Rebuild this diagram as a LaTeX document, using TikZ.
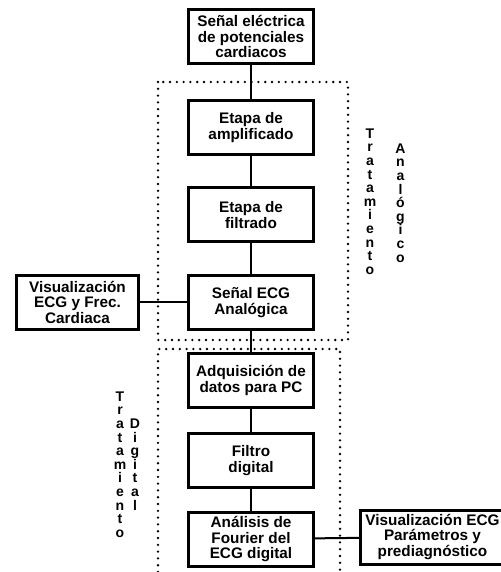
\documentclass[tikz,border=0pt]{standalone}
\usepackage{fontspec}
\setmainfont{Liberation Sans}
\usepackage{tikz}
\usetikzlibrary{positioning}
\newcommand{\apretado}{\lineskiplimit=-20pt\relax}
\tikzset{
  etapa/.style={draw,line width=3pt,minimum width=125pt,minimum height=54pt,
    align=center,inner sep=0pt,font=\fontsize{15.3}{15.8}\selectfont\bfseries},
  vtexto/.style={align=center,inner sep=0pt,
    font=\fontsize{14}{13.6}\selectfont\bfseries\apretado},
  puntos/.style={line width=2.6pt,line cap=round,dash pattern=on 0pt off 6.8pt},
  enlace/.style={line width=2pt}
}

\begin{document}
\begin{tikzpicture}[x=1pt,y=-1pt,node distance=33pt]
                   \useasboundingbox (0,0) rectangle (500,572);
                   \node[etapa] (senal) at (251,36.5) {Señal eléctrica\\de potenciales\\cardiacos};
                   \node[etapa] (amp) [below=34.3pt of senal] {Etapa de\\amplificado};
                   \node[etapa] (filt) [below=30pt of amp] {Etapa de\\filtrado};
                   \node[etapa] (ecg) [below=30.5pt of filt] {Señal ECG\\Analógica};
                   \node[etapa,minimum width=122pt] (visA) [left=47pt of ecg] {Visualización\\ECG y Frec.\\Cardiaca};
                   \node[etapa] (adq) [below=21pt of ecg] {Adquisición de\\datos para PC};
                   \node[etapa] (fdig) [below=23.3pt of adq] {Filtro\\digital};
                   \node[etapa] (four) [below=21.5pt of fdig] {Análisis de\\Fourier del\\ECG digital};
                   \node[etapa,minimum width=144pt] (visD) at (432.5,537) {Visualización ECG\\Parámetros y\\prediagnóstico};
                   % zonas de tratamiento
                   \draw[puntos] (158,82) rectangle (348,340);
                   \draw[puntos] (158,572) -- (158,349) -- (340,349) -- (340,572);
                   \node[vtexto] (tratA) at (370,201.5) {T\\r\\a\\t\\a\\m\\i\\e\\n\\t\\o};
                   \node[vtexto] (analog) at (400.5,203) {A\\n\\a\\l\\ó\\g\\i\\c\\o};
                   \node[vtexto] (tratD) at (120,464.5) {T\\r\\a\\t\\a\\m\\i\\e\\n\\t\\o};
                   \node[vtexto] (digit) at (135,464.5) {D\\i\\g\\i\\t\\a\\l};
                   \path[enlace]
                    (senal) edge (amp)
                    (amp) edge (filt)
                    (filt) edge (ecg)
                    (ecg) edge (adq)
                          edge (visA)
                    (adq) edge (fdig)
                    (fdig) edge (four)
                    (four) edge (visD);
                \end{tikzpicture}
\end{document}
